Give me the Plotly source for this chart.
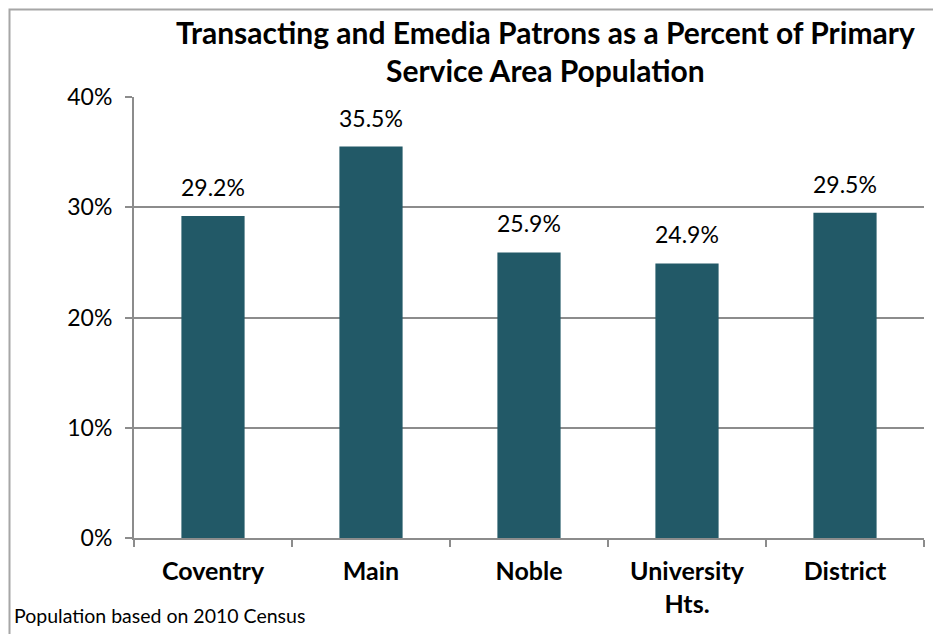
import plotly.graph_objects as go

categories = ["Coventry", "Main", "Noble", "University<br>Hts.", "District"]
values = [29.2, 35.5, 25.9, 24.9, 29.5]
labels = ["29.2%", "35.5%", "25.9%", "24.9%", "29.5%"]
tick_vals = [0, 10, 20, 30, 40]
tick_text = ["0%", "10%", "20%", "30%", "40%"]
title_lines = ["Transacting and Emedia Patrons as a Percent of Primary", "Service Area Population"]
footnote = "Population based on 2010 Census"

FONT = "Lato"
BAR = "#225967"
GRID = "#8c8c8c"

# target plot-area in screen pixels (page has 8px body margin)
PX0, PX1, PY0, PY1 = 134, 924, 97, 538
W, H = 941, 634
OFF = 8


def px(x):
    return (x - PX0) / (PX1 - PX0)


def py(y):
    return (PY1 - y) / (PY1 - PY0)


fig = go.Figure()
fig.add_trace(go.Bar(x=categories, y=values, width=0.4, marker=dict(color=BAR, line=dict(width=0)),
                     hoverinfo="skip"))

for c, v, t in zip(categories, values, labels):
    fig.add_annotation(x=c, y=v, text=t, showarrow=False, yanchor="bottom", yshift=13,
                       font=dict(family=FONT, size=23, color="#000000"))

for line, yc in zip(title_lines, [32, 70]):
    fig.add_annotation(xref="paper", yref="paper", x=px(545), y=py(yc), yanchor="middle",
                       text="<b>" + line + "</b>", showarrow=False,
                       font=dict(family=FONT, size=30, color="#000000"))

fig.add_annotation(xref="paper", yref="paper", x=px(12), y=py(615),
                   xanchor="left", yanchor="middle", text=footnote,
                   showarrow=False, font=dict(family=FONT, size=19.5, color="#000000"))

fig.add_shape(type="rect", xref="paper", yref="paper",
              x0=px(9.5), x1=px(990), y0=py(700), y1=py(9.5),
              line=dict(color="#a6a6a6", width=2))

fig.update_layout(
    width=W, height=H,
    margin=dict(l=PX0 - OFF, r=W + OFF - PX1, t=PY0 - OFF, b=H + OFF - PY1, autoexpand=False),
    paper_bgcolor="white", plot_bgcolor="white",
    showlegend=False,
    font=dict(family=FONT, color="#000000"),
)
fig.update_xaxes(showline=True, linecolor=GRID, linewidth=2, ticks="outside", tickson="boundaries",
                 ticklen=7, tickcolor=GRID, tickwidth=2, ticklabelstandoff=10,
                 tickfont=dict(family=FONT, size=25, color="#000000", weight="bold"),
                 showgrid=False, automargin=False)
fig.update_yaxes(range=[0, 40], tickvals=tick_vals, ticktext=tick_text, showline=True, linecolor=GRID,
                 linewidth=2, ticks="outside", ticklen=7, tickcolor=GRID, tickwidth=2,
                 showgrid=True, gridcolor=GRID, gridwidth=2, zeroline=False, automargin=False,
                 tickfont=dict(family=FONT, size=23, color="#000000"), ticklabelstandoff=8)

fig.write_html("out.html")
